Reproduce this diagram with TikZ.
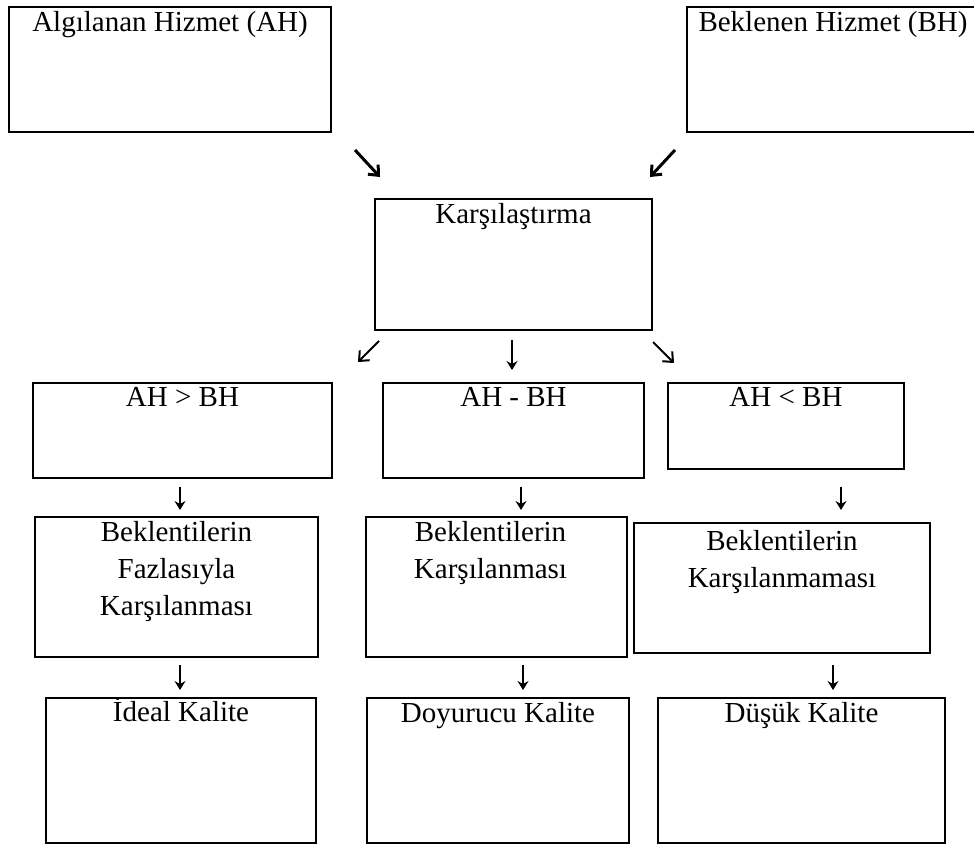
\documentclass[tikz,border=0pt]{standalone}
\usepackage{fontspec}
\setmainfont{Liberation Serif}
\usepackage{tikz}
\usetikzlibrary{arrows.meta,positioning}

\begin{document}
\begin{tikzpicture}[
    x=1pt, y=-1pt,
    box/.style={draw, line width=2.8pt, inner sep=0pt},
    lbl/.style={anchor=north, inner sep=6pt, align=center,
                font=\fontsize{29}{36.7}\selectfont},
    arr/.style={-{Straight Barb[length=8pt,width=14pt]}, line width=2pt},
    barr/.style={arr, line width=3pt},
    darr/.style={-{Stealth[length=9pt,width=11pt,inset=3pt]}, line width=1.4pt}
]
    \useasboundingbox (0,0) rectangle (974,845);
    % top row
    \node[box, minimum width=322pt, minimum height=125pt,
          label={[lbl]north:Algılanan Hizmet (AH)}] (ah) at (170,69.5) {};
    \node[box, minimum width=292pt, minimum height=125pt,
          label={[lbl]north:Beklenen Hizmet (BH)}] (bh) at (833,69.5) {};
    \node[box, minimum width=277pt, minimum height=131pt,
          label={[lbl]north:Karşılaştırma}] (kar) at (513.5,264.5) {};
    % comparison results
    \node[box, minimum width=299pt, minimum height=95pt,
          label={[lbl]north:AH > BH}] (gt) at (182.5,430.5) {};
    \node[box, minimum width=261pt, minimum height=95pt,
          label={[lbl]north:AH - BH}] (eq) at (513.5,430.5) {};
    \node[box, minimum width=236pt, minimum height=86pt,
          label={[lbl]north:AH < BH}] (lt) at (786,426) {};
    % expectations
    \node[box, minimum width=283pt, minimum height=140pt,
          label={[lbl]north:{Beklentilerin\\Fazlasıyla\\Karşılanması}}] (bfk) at (176.5,587) {};
    \node[box, minimum width=261pt, minimum height=140pt,
          label={[lbl, xshift=-6pt]north:{Beklentilerin\\Karşılanması}}] (bk) at (496.5,587) {};
    \node[box, minimum width=296pt, minimum height=130pt,
          label={[lbl, yshift=-3pt]north:{Beklentilerin\\Karşılanmaması}}] (bkm) at (782,588) {};
    % quality
    \node[box, minimum width=270pt, minimum height=145pt,
          label={[lbl, yshift=5pt]north:İdeal Kalite}] (ideal) at (181,770.5) {};
    \node[box, minimum width=262pt, minimum height=145pt,
          label={[lbl]north:Doyurucu Kalite}] (doy) at (498,770.5) {};
    \node[box, minimum width=287pt, minimum height=145pt,
          label={[lbl]north:Düşük Kalite}] (dusuk) at (801.5,770.5) {};

    % arrow ends
    \coordinate (p1) at (355,150);  \coordinate (q1) at (380,177);
    \coordinate (p2) at (675,150);  \coordinate (q2) at (650,177);
    \coordinate (p3) at (379,341);  \coordinate (q3) at (358,362);
    \coordinate (p4) at (512,340);  \coordinate (q4) at (512,370);
    \coordinate (p5) at (653,342);  \coordinate (q5) at (674,363);
    \coordinate (p6) at (180,487);  \coordinate (q6) at (180,510);
    \coordinate (p7) at (521,487);  \coordinate (q7) at (521,510);
    \coordinate (p8) at (841,487);  \coordinate (q8) at (841,510);
    \coordinate (p9) at (180,665);  \coordinate (q9) at (180,690);
    \coordinate (p10) at (523,665); \coordinate (q10) at (523,690);
    \coordinate (p11) at (833,665); \coordinate (q11) at (833,690);

    \draw[barr] (p1) -- (q1);
    \draw[barr] (p2) -- (q2);
    \draw[arr] (p3) -- (q3);
    \draw[darr] (p4) -- (q4);
    \draw[arr] (p5) -- (q5);
    \draw[darr] (p6) -- (q6);
    \draw[darr] (p7) -- (q7);
    \draw[darr] (p8) -- (q8);
    \draw[darr] (p9) -- (q9);
    \draw[darr] (p10) -- (q10);
    \draw[darr] (p11) -- (q11);
\end{tikzpicture}
\end{document}
